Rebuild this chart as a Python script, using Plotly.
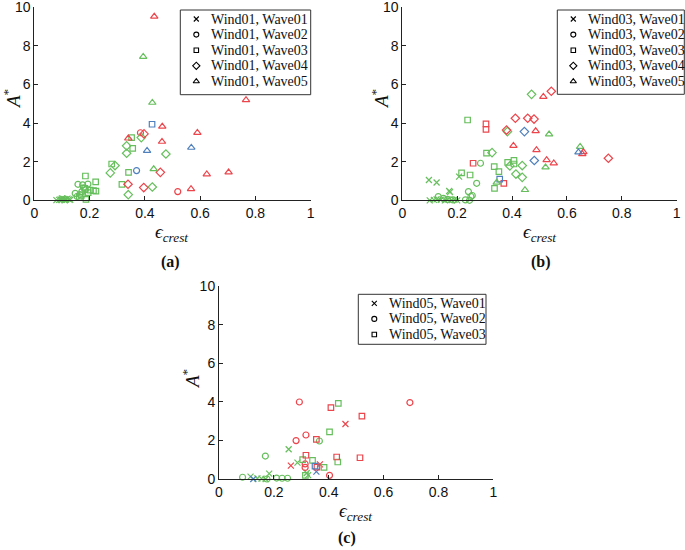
import plotly.graph_objects as go

# ---------------- data ----------------
# colour codes: g = green, r = red, b = blue
# Panel (a): Wind01
A_W01_X = [0.08, 0.09, 0.095, 0.10, 0.105, 0.11, 0.115, 0.12, 0.125, 0.13, 0.10, 0.11]
A_W01_Y = [0.01, 0.02, 0.05, 0.03, 0.08, 0.06, 0.04, 0.09, 0.05, 0.03, 0.10, 0.00]
A_W01_C = ["g"] * 12

A_W02_X = [0.158, 0.175, 0.194, 0.148, 0.165, 0.172, 0.155, 0.185, 0.178, 0.384, 0.519, 0.370]
A_W02_Y = [0.83, 0.80, 0.84, 0.36, 0.30, 0.45, 0.20, 0.55, 0.65, 3.50, 0.45, 1.54]
A_W02_C = ["g", "g", "g", "g", "g", "g", "g", "g", "g", "r", "r", "b"]

A_W03_X = [0.352, 0.356, 0.341, 0.317, 0.280, 0.185, 0.222, 0.183, 0.202, 0.214, 0.223, 0.187, 0.170, 0.195, 0.163, 0.426]
A_W03_Y = [3.25, 2.69, 1.45, 0.83, 1.88, 1.26, 0.95, 0.62, 0.53, 0.50, 0.48, 0.05, 0.25, 0.40, 0.15, 3.94]
A_W03_C = ["g"] * 15 + ["b"]

A_W04_X = [0.387, 0.334, 0.334, 0.476, 0.292, 0.275, 0.340, 0.427, 0.397, 0.339, 0.396, 0.456]
A_W04_Y = [3.25, 2.82, 2.44, 2.40, 1.80, 1.42, 0.29, 0.69, 3.44, 0.83, 0.66, 1.45]
A_W04_C = ["g"] * 8 + ["r"] * 4

A_W05_X = [0.434, 0.766, 0.463, 0.590, 0.340, 0.462, 0.703, 0.624, 0.567, 0.394, 0.427, 0.432, 0.408, 0.568]
A_W05_Y = [9.52, 5.20, 3.82, 3.50, 3.21, 3.04, 1.45, 1.35, 0.59, 7.44, 5.06, 1.62, 2.57, 2.73]
A_W05_C = ["r"] * 9 + ["g"] * 3 + ["b"] * 2

# Panel (b): Wind03
B_W01_X = [0.097, 0.125, 0.207, 0.171, 0.174, 0.10, 0.115, 0.125, 0.14, 0.155, 0.165, 0.18, 0.19, 0.20]
B_W01_Y = [1.05, 0.92, 1.23, 0.48, 0.42, 0.00, 0.02, 0.05, 0.03, 0.00, 0.04, 0.01, 0.03, 0.00]
B_W01_C = ["g"] * 14

B_W02_X = [0.131, 0.241, 0.250, 0.271, 0.285, 0.150, 0.165, 0.185, 0.230, 0.245, 0.255]
B_W02_Y = [0.19, 0.45, 0.20, 0.88, 1.92, 0.10, 0.05, 0.02, 0.02, 0.00, 0.25]
B_W02_C = ["g"] * 11

B_W03_X = [0.238, 0.216, 0.247, 0.307, 0.335, 0.352, 0.336, 0.384, 0.407, 0.407, 0.305, 0.305, 0.258, 0.370, 0.355]
B_W03_Y = [4.16, 1.42, 1.31, 2.44, 1.74, 1.49, 0.62, 1.97, 2.07, 1.88, 3.96, 3.68, 1.92, 0.88, 1.10]
B_W03_C = ["g"] * 10 + ["r"] * 4 + ["b"]

B_W04_X = [0.327, 0.383, 0.471, 0.437, 0.414, 0.437, 0.392, 0.412, 0.457, 0.480, 0.543, 0.380, 0.751, 0.445, 0.481]
B_W04_Y = [2.47, 3.56, 5.49, 1.80, 1.36, 1.19, 1.78, 4.25, 4.25, 4.21, 5.65, 3.64, 2.18, 3.56, 2.06]
B_W04_C = ["g"] * 7 + ["r"] * 6 + ["b"] * 2

B_W05_X = [0.344, 0.447, 0.535, 0.522, 0.648, 0.514, 0.486, 0.405, 0.489, 0.526, 0.552, 0.660, 0.656, 0.642]
B_W05_Y = [0.92, 0.54, 3.42, 1.71, 2.78, 5.37, 3.59, 2.83, 2.61, 2.09, 1.92, 2.50, 2.40, 2.49]
B_W05_C = ["g"] * 5 + ["r"] * 8 + ["b"]

# Panel (c): Wind05
C_W01_X = [0.254, 0.286, 0.183, 0.320, 0.115, 0.140, 0.155, 0.170, 0.325, 0.461, 0.262, 0.368, 0.355, 0.125]
C_W01_Y = [1.54, 0.85, 0.28, 0.31, 0.12, 0.03, 0.02, 0.00, 0.20, 2.85, 0.69, 0.76, 0.38, 0.00]
C_W01_C = ["g"] * 9 + ["r"] * 3 + ["b"] * 2

C_W02_X = [0.293, 0.696, 0.281, 0.317, 0.314, 0.314, 0.403, 0.366, 0.169, 0.086, 0.175, 0.210, 0.230, 0.250]
C_W02_Y = [3.99, 3.96, 1.99, 2.28, 0.78, 0.60, 0.19, 1.97, 1.19, 0.09, 0.00, 0.05, 0.04, 0.04]
C_W02_C = ["r"] * 7 + ["g"] * 7

C_W03_X = [0.435, 0.403, 0.305, 0.341, 0.383, 0.433, 0.315, 0.408, 0.521, 0.355, 0.317, 0.429, 0.514, 0.357, 0.350]
C_W03_Y = [3.92, 2.44, 1.00, 0.97, 0.60, 0.88, 0.19, 3.70, 3.26, 2.05, 1.23, 1.14, 1.10, 0.62, 0.67]
C_W03_C = ["g"] * 7 + ["r"] * 7 + ["b"]

X_TICKS = [0, 0.2, 0.4, 0.6, 0.8, 1]
X_TICK_TEXT = ["0", "0.2", "0.4", "0.6", "0.8", "1"]
Y_TICKS = [0, 2, 4, 6, 8, 10]
PANEL_LABELS = ["(a)", "(b)", "(c)"]
WIND_NAMES = ["Wind01", "Wind03", "Wind05"]
WAVE_NAMES = ["Wave01", "Wave02", "Wave03", "Wave04", "Wave05"]

# ---------------- styling ----------------
COLORS = {"g": "#66bf5c", "r": "#ec454c", "b": "#4f80bd"}
SYMBOLS = ["x-thin-open", "circle-open", "square-open", "diamond-open", "triangle-up-open"]
SIZES = [6, 6, 5.5, 6.5, 6.5]
LEG_SIZES = [5, 5, 4.5, 5.5, 5.5]
SERIF = "Liberation Serif"
SANS = "Liberation Sans"
INK = "#111"

panels = [
    [(A_W01_X, A_W01_Y, A_W01_C), (A_W02_X, A_W02_Y, A_W02_C), (A_W03_X, A_W03_Y, A_W03_C),
     (A_W04_X, A_W04_Y, A_W04_C), (A_W05_X, A_W05_Y, A_W05_C)],
    [(B_W01_X, B_W01_Y, B_W01_C), (B_W02_X, B_W02_Y, B_W02_C), (B_W03_X, B_W03_Y, B_W03_C),
     (B_W04_X, B_W04_Y, B_W04_C), (B_W05_X, B_W05_Y, B_W05_C)],
    [(C_W01_X, C_W01_Y, C_W01_C), (C_W02_X, C_W02_Y, C_W02_C), (C_W03_X, C_W03_Y, C_W03_C)],
]

W, H = 685, 550
# layout in pixels
boxes = [(34.3, 310.7, 7.3, 200.3), (402.3, 676.7, 7.3, 200.3), (219.0, 493.3, 286.0, 479.0)]
legend_boxes = [(180.3, 310.7, 10.0, 94.7), (557.3, 684.3, 10.0, 94.3), (358.3, 486.0, 294.3, 344.3)]
legend_sym_dx = 16     # symbol centre from box left
legend_txt_dx = 29     # text start from box left
legend_row0 = 9.0      # first row centre from box top
legend_row_gap = 15.6
label_pos = [(170, 262), (541, 262), (347, 538)]
ytitle_pos = [(12, 99), (380, 99), (191, 379)]
xtitle_pos = [(171, 233), (539, 233), (355, 512)]


def px(xp):
    return xp / W


def py(yp):
    return 1 - yp / H


fig = go.Figure()
layout = {}
annotations = []
shapes = []
leg_x, leg_y, leg_sym = [], [], []

for i, waves in enumerate(panels):
    sfx = "" if i == 0 else str(i + 1)
    xa, ya = "x" + sfx, "y" + sfx
    for w, (xs, ys, cs) in enumerate(waves):
        for ck in ["g", "r", "b"]:
            sx = [x for x, c in zip(xs, cs) if c == ck]
            sy = [y for y, c in zip(ys, cs) if c == ck]
            if not sx:
                continue
            fig.add_trace(go.Scatter(
                x=sx, y=sy, mode="markers", xaxis=xa, yaxis=ya, showlegend=False,
                cliponaxis=False, hoverinfo="skip",
                marker=dict(symbol=SYMBOLS[w], size=SIZES[w], color=COLORS[ck],
                            line=dict(color=COLORS[ck], width=1.2))))

    x0, x1, yt, yb = boxes[i]
    axis_common = dict(showline=True, linecolor="#222", linewidth=1, ticks="inside", ticklen=4,
                       tickcolor="#222", showgrid=False, zeroline=False, mirror=False,
                       automargin=False, ticklabeloverflow="allow",
                       tickfont=dict(family=SANS, size=14, color=INK))
    layout["xaxis" + sfx] = dict(domain=[px(x0), px(x1)], anchor=ya, range=[0, 1],
                                 tickvals=X_TICKS, ticktext=X_TICK_TEXT, **axis_common)
    layout["yaxis" + sfx] = dict(domain=[py(yb), py(yt)], anchor=xa, range=[0, 10],
                                 tickvals=Y_TICKS, **axis_common)

    # axis titles
    tx, ty = ytitle_pos[i]
    annotations.append(dict(text="<i>A</i><sup>*</sup>", x=px(tx), y=py(ty), xref="paper", yref="paper",
                            showarrow=False, textangle=-90, xanchor="center", yanchor="middle",
                            font=dict(family=SERIF, size=19, color=INK)))
    tx, ty = xtitle_pos[i]
    annotations.append(dict(text="<i>ϵ<sub>crest</sub></i>", x=px(tx), y=py(ty), xref="paper", yref="paper",
                            showarrow=False, xanchor="center", yanchor="middle",
                            font=dict(family=SERIF, size=19, color=INK)))
    # panel label
    lx, ly = label_pos[i]
    annotations.append(dict(text=f"<b>{PANEL_LABELS[i]}</b>", x=px(lx), y=py(ly), xref="paper", yref="paper",
                            showarrow=False, xanchor="center", yanchor="middle",
                            font=dict(family=SERIF, size=16, color=INK)))

    # legend box
    bl, br, bt, bb = legend_boxes[i]
    shapes.append(dict(type="rect", xref="paper", yref="paper", x0=px(bl), x1=px(br), y0=py(bb), y1=py(bt),
                       line=dict(color="#333", width=1), fillcolor="white", layer="below"))
    for w in range(len(waves)):
        ry = bt + legend_row0 + w * legend_row_gap
        leg_x.append(bl + legend_sym_dx)
        leg_y.append(ry)
        leg_sym.append((SYMBOLS[w], LEG_SIZES[w]))
        annotations.append(dict(text=f"{WIND_NAMES[i]}, {WAVE_NAMES[w]}", x=px(bl + legend_txt_dx), y=py(ry),
                                xref="paper", yref="paper", showarrow=False, xanchor="left",
                                yanchor="middle", font=dict(family=SERIF, size=14, color=INK)))

# legend key symbols on a full-page pixel overlay axis
layout["xaxis4"] = dict(domain=[0, 1], range=[0, W], visible=False, fixedrange=True, anchor="y4", automargin=False)
layout["yaxis4"] = dict(domain=[0, 1], range=[H, 0], visible=False, fixedrange=True, anchor="x4", automargin=False)
for (sym, sz), lxp, lyp in zip(leg_sym, leg_x, leg_y):
    fig.add_trace(go.Scatter(x=[lxp], y=[lyp], mode="markers", xaxis="x4", yaxis="y4", showlegend=False,
                             hoverinfo="skip", cliponaxis=False,
                             marker=dict(symbol=sym, size=sz, color="black",
                                         line=dict(color="black", width=1.1))))

fig.update_layout(**layout)
fig.update_layout(width=W, height=H, margin=dict(l=0, r=0, t=0, b=0, autoexpand=False),
                  paper_bgcolor="white", plot_bgcolor="rgba(0,0,0,0)", showlegend=False,
                  annotations=annotations, shapes=shapes, hovermode=False)
fig.write_html("out.html", config={"displayModeBar": False, "staticPlot": True},
               post_script="document.body.style.margin='0';document.body.style.padding='0';")
